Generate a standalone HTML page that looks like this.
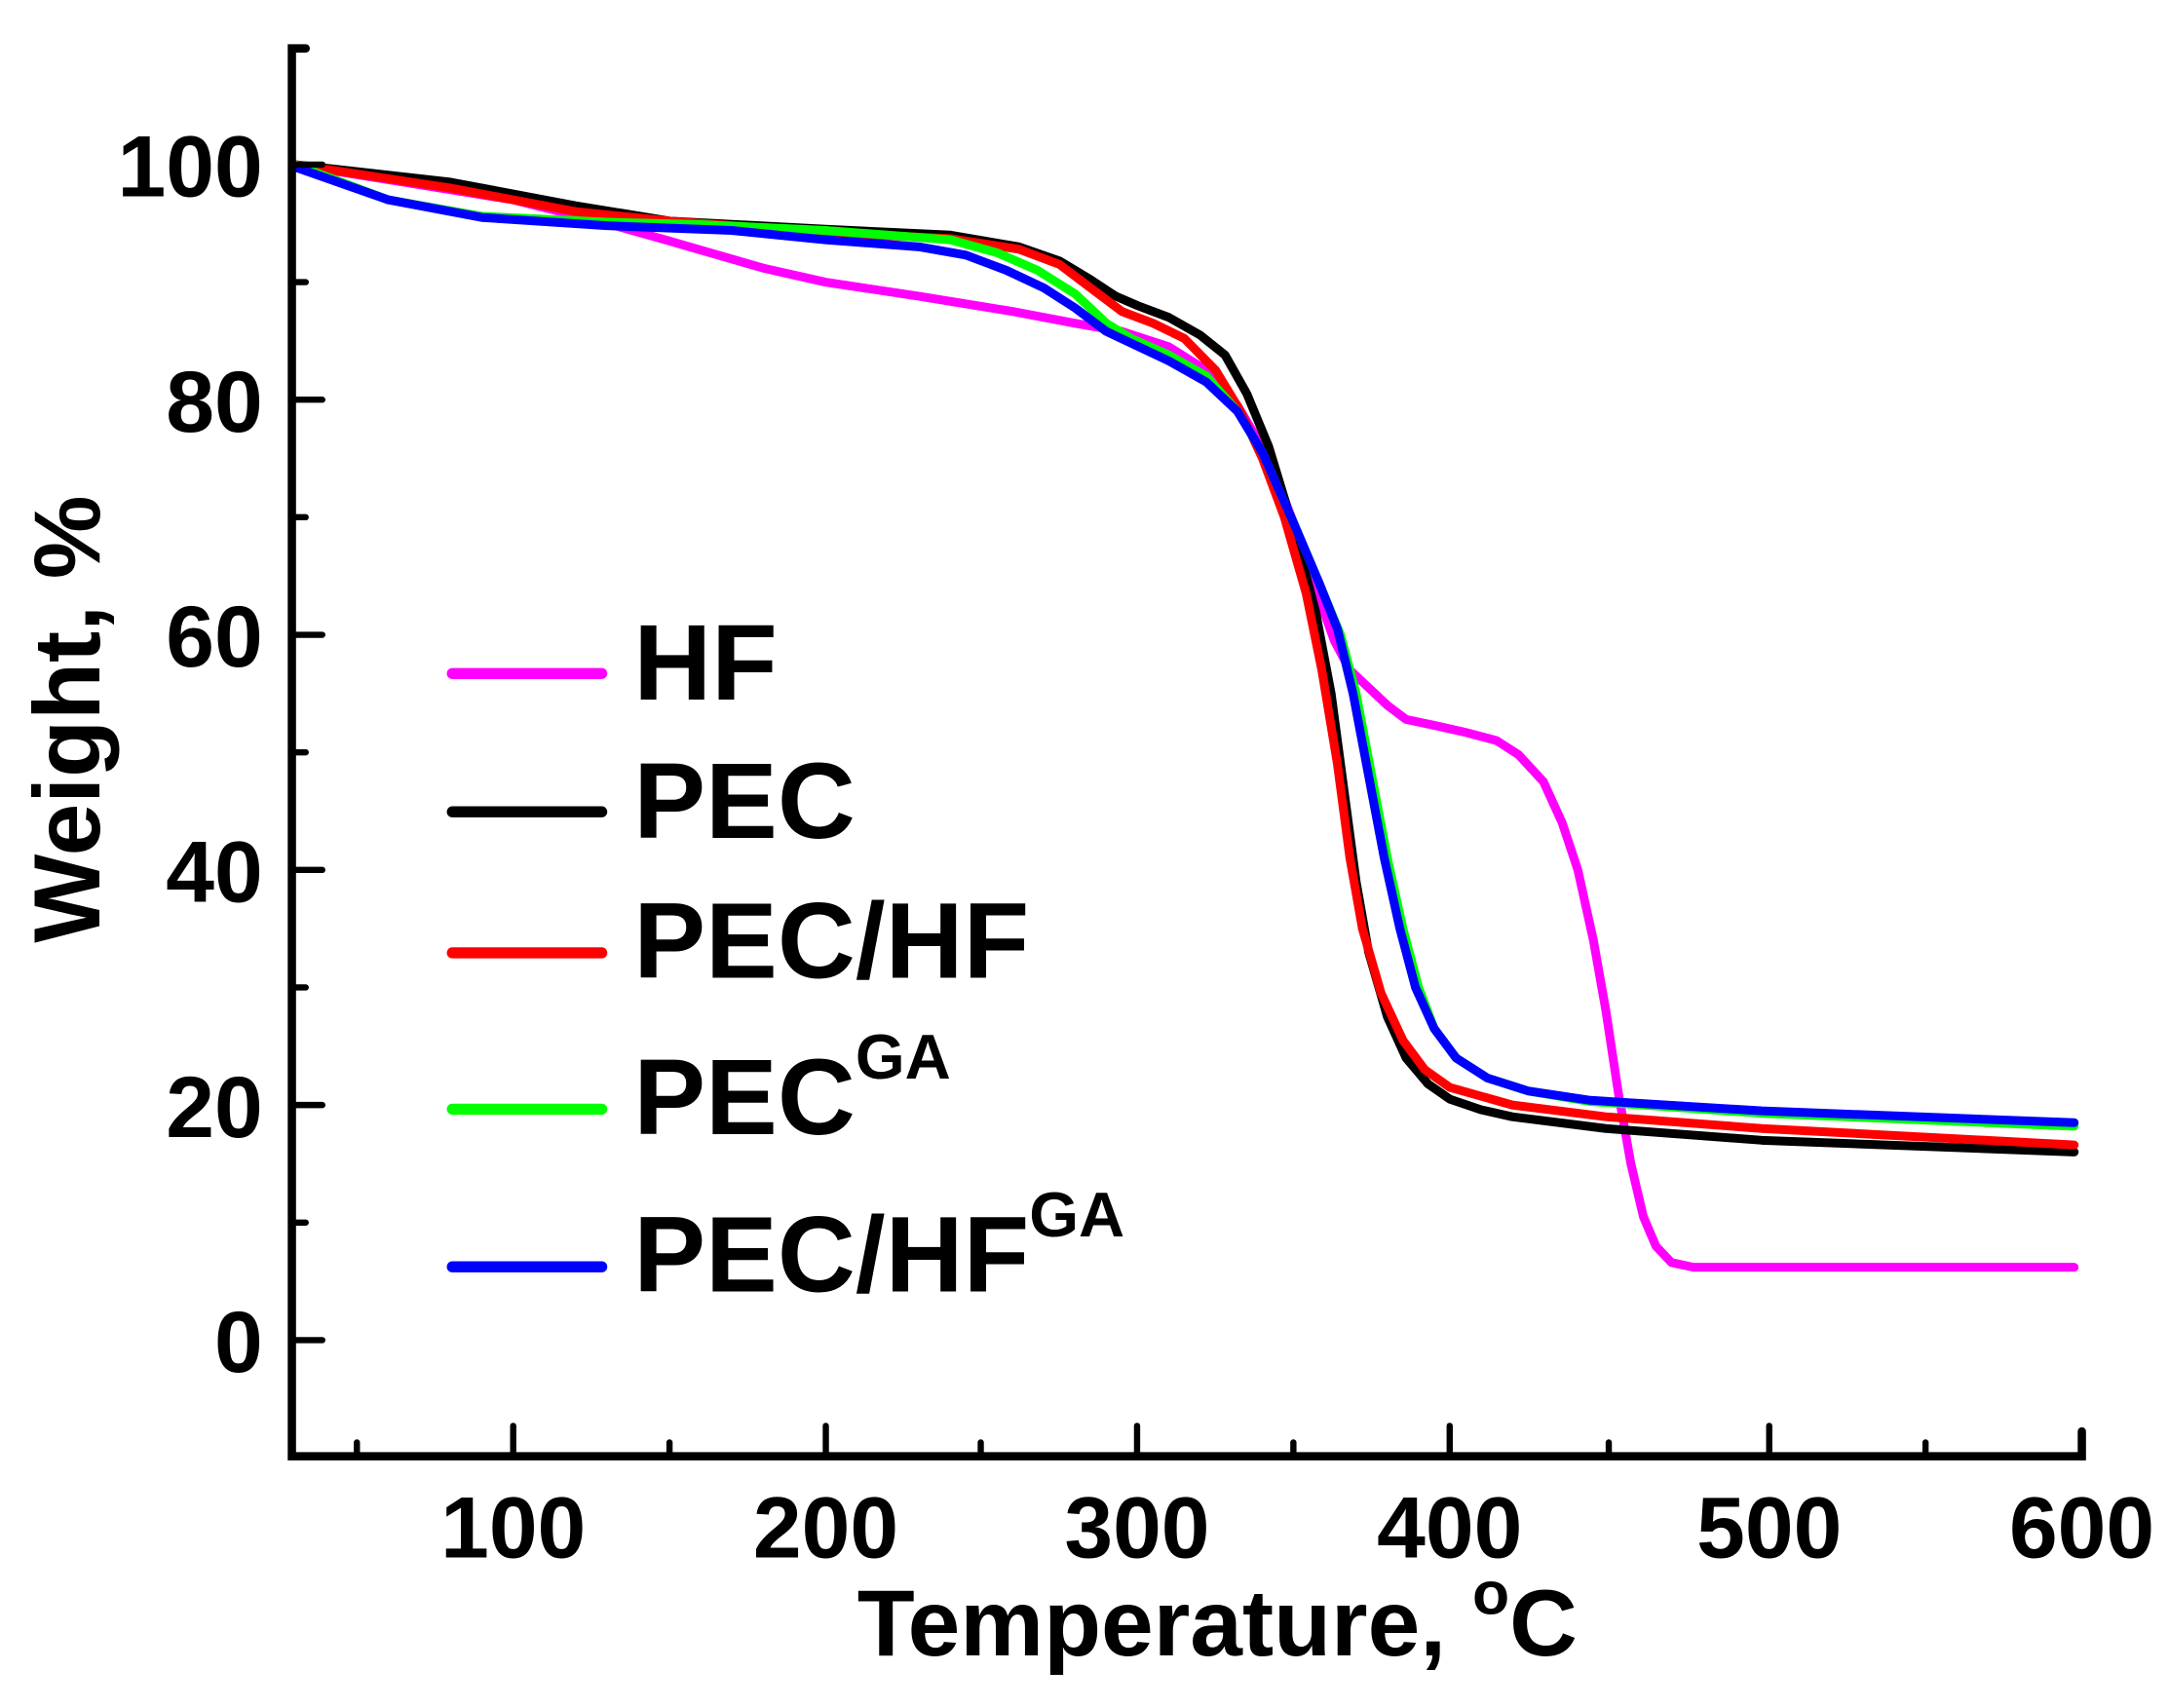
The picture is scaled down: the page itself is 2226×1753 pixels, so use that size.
<!DOCTYPE html>
<html><head><style>html,body{margin:0;padding:0;background:#fff}svg{display:block}</style></head><body>
<svg width="2226" height="1753" viewBox="0 0 1568 1235" preserveAspectRatio="none" xmlns="http://www.w3.org/2000/svg" font-family="Liberation Sans, Arial, sans-serif" font-weight="bold">
<rect width="1568" height="1235" fill="#fff"/>
<g transform="translate(213 969) scale(2.257 -8.5) translate(-30 0)" fill="none" stroke-linejoin="round" stroke-linecap="round">
<polyline vector-effect="non-scaling-stroke" stroke="#ff00ff" stroke-width="9" points="30,100 100,97 130,95 150,93.5 180,91.2 200,90 230,88.8 260,87.5 280,86.5 295,85.8 310,84.5 322,82.5 332,79.5 342,75 350,69.5 357,64 363,59.5 368,57 374,55.5 380,54 386,52.8 395,52.3 405,51.7 415,51 422,49.8 430,47.5 436,44 441,40 446,34 450,28 454,21 458,15 462,10.5 466,8 471,6.6 478,6.2 600,6.2"/>
<polyline vector-effect="non-scaling-stroke" stroke="#000" stroke-width="9" points="30,100 80,98.5 120,96.5 150,95.2 200,94.5 240,94 262,93 275,91.8 285,90.2 293,88.8 300,88 310,87 320,85.5 328,83.8 335,80.5 342,76 350,69 357,62 362,55 366,47 370,39 374,33 380,27.5 386,24 393,21.8 400,20.5 410,19.6 420,19 450,18 500,17 600,16"/>
<polyline vector-effect="non-scaling-stroke" stroke="#ff0000" stroke-width="9" points="30,100 80,98 120,96 150,95.2 200,94.2 240,93.7 262,92.8 275,91.5 285,89.5 295,87.5 305,86.5 315,85.2 325,82.5 333,79 340,75 347,70 354,63.5 359,57 364,49 368,41 372,35 378,29.5 385,25.5 392,23 400,21.5 420,20 450,19 500,18 600,16.6"/>
<polyline vector-effect="non-scaling-stroke" stroke="#00ff00" stroke-width="9" points="30,100 60,97 90,95.6 130,95.1 160,94.9 200,94.4 240,93.6 255,92.5 268,91 280,89 290,86.5 298,85.2 310,83.8 322,82 332,79 340,75.5 350,69.5 358,64.5 365,60 370,55 375,48 380,41 385,35 390,30 395,26.5 402,24 412,22.3 425,21.2 445,20.3 500,19.3 600,18.2"/>
<polyline vector-effect="non-scaling-stroke" stroke="#0000ff" stroke-width="9" points="30,99.8 60,97 90,95.5 130,94.8 170,94.4 200,93.6 230,93 245,92.3 258,91 270,89.5 280,87.8 290,85.8 298,84.8 310,83.3 322,81.5 332,79 340,75.5 350,69.5 358,64.5 364,60.5 369,55 374,48 379,41 384,35 389,30 395,26.5 402,24 412,22.3 425,21.2 445,20.4 500,19.5 600,18.5"/>
</g>
<g stroke="#000" stroke-linecap="round" fill="none">
<polyline stroke-width="6" points="221,35 211,35 211,1053 1505,1053 1505,1035"/>
<g stroke-width="4.5">
<line x1="211" y1="119" x2="233" y2="119"/><line x1="211" y1="289" x2="233" y2="289"/><line x1="211" y1="459" x2="233" y2="459"/><line x1="211" y1="629" x2="233" y2="629"/><line x1="211" y1="799" x2="233" y2="799"/><line x1="211" y1="969" x2="233" y2="969"/>
<line x1="211" y1="204" x2="221" y2="204"/><line x1="211" y1="374" x2="221" y2="374"/><line x1="211" y1="544" x2="221" y2="544"/><line x1="211" y1="714" x2="221" y2="714"/><line x1="211" y1="884" x2="221" y2="884"/>
<line x1="371" y1="1053" x2="371" y2="1031"/><line x1="597" y1="1053" x2="597" y2="1031"/><line x1="822" y1="1053" x2="822" y2="1031"/><line x1="1048" y1="1053" x2="1048" y2="1031"/><line x1="1279" y1="1053" x2="1279" y2="1031"/>
<line x1="258" y1="1053" x2="258" y2="1043"/><line x1="484" y1="1053" x2="484" y2="1043"/><line x1="709" y1="1053" x2="709" y2="1043"/><line x1="935" y1="1053" x2="935" y2="1043"/><line x1="1163" y1="1053" x2="1163" y2="1043"/><line x1="1392" y1="1053" x2="1392" y2="1043"/>
</g>
</g>
<g font-size="63" text-anchor="end" fill="#000">
<text x="190" y="142">100</text><text x="190" y="312">80</text><text x="190" y="482">60</text><text x="190" y="652">40</text><text x="190" y="822">20</text><text x="190" y="992">0</text>
</g>
<g font-size="63" text-anchor="middle" fill="#000">
<text x="371" y="1126">100</text><text x="597" y="1126">200</text><text x="822" y="1126">300</text><text x="1048" y="1126">400</text><text x="1279" y="1126">500</text><text x="1505" y="1126">600</text>
</g>
<text x="880" y="1197" font-size="68" text-anchor="middle">Temperature, <tspan font-size="44" dy="-30">o</tspan><tspan dy="30">C</tspan></text>
<text transform="translate(72 520) rotate(-90)" font-size="68" text-anchor="middle">Weight, %</text>
<g stroke-width="8" stroke-linecap="round">
<line x1="327" y1="487" x2="435" y2="487" stroke="#ff00ff"/>
<line x1="327" y1="587" x2="435" y2="587" stroke="#000"/>
<line x1="327" y1="689" x2="435" y2="689" stroke="#ff0000"/>
<line x1="327" y1="802" x2="435" y2="802" stroke="#00ff00"/>
<line x1="327" y1="916" x2="435" y2="916" stroke="#0000ff"/>
</g>
<g font-size="78" fill="#000">
<text x="458" y="506">HF</text>
<text x="458" y="606">PEC</text>
<text x="458" y="707">PEC/HF</text>
<text x="458" y="820">PEC<tspan font-size="46" dy="-40">GA</tspan></text>
<text x="458" y="934">PEC/HF<tspan font-size="46" dy="-40">GA</tspan></text>
</g>
</svg>
</body></html>
